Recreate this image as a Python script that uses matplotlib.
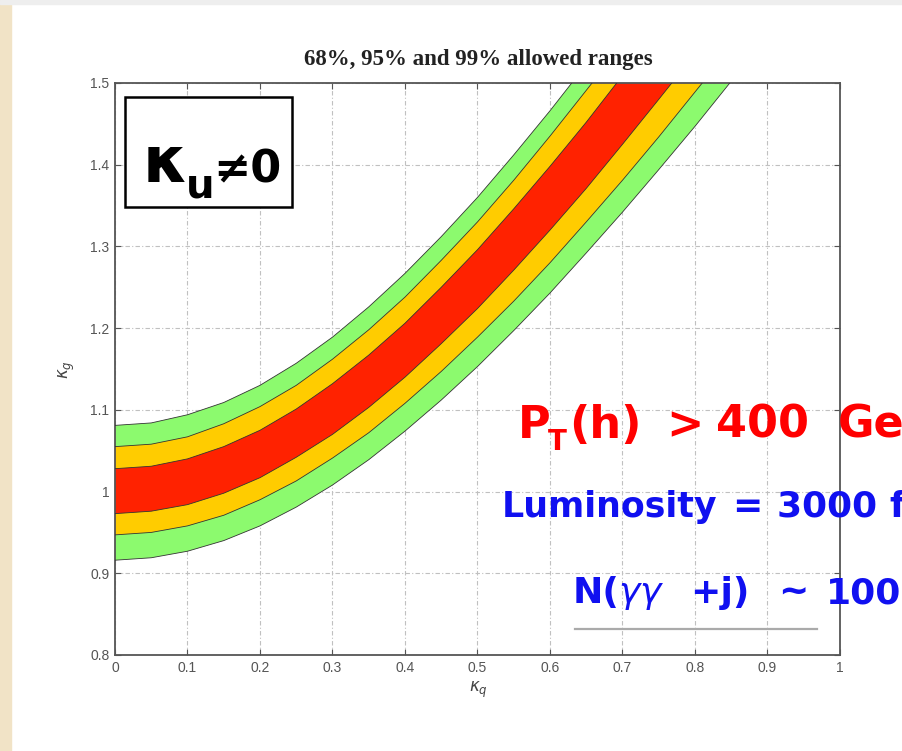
import matplotlib
matplotlib.use('Agg')
import matplotlib.pyplot as plt
from matplotlib.patches import Rectangle
import numpy as np

# allowed-range boundaries in the (kappa_q, kappa_g) plane, read along kappa_q
kq_green_hi = [0, 0.05, 0.1, 0.15, 0.2, 0.25, 0.3, 0.35, 0.4, 0.45, 0.5, 0.55, 0.6, 0.630]
kg_green_hi = [1.081, 1.084, 1.094, 1.109, 1.130, 1.157, 1.189, 1.226, 1.267, 1.312, 1.360, 1.412, 1.466, 1.5]
kq_yellow_hi = [0, 0.05, 0.1, 0.15, 0.2, 0.25, 0.3, 0.35, 0.4, 0.45, 0.5, 0.55, 0.6, 0.65, 0.658]
kg_yellow_hi = [1.055, 1.058, 1.067, 1.083, 1.104, 1.130, 1.162, 1.198, 1.238, 1.283, 1.330, 1.381, 1.435, 1.491, 1.5]
kq_red_hi = [0, 0.05, 0.1, 0.15, 0.2, 0.25, 0.3, 0.35, 0.4, 0.45, 0.5, 0.55, 0.6, 0.65, 0.692]
kg_red_hi = [1.028, 1.031, 1.040, 1.055, 1.075, 1.101, 1.132, 1.167, 1.206, 1.250, 1.296, 1.346, 1.398, 1.452, 1.5]
kq_red_lo = [0, 0.05, 0.1, 0.15, 0.2, 0.25, 0.3, 0.35, 0.4, 0.45, 0.5, 0.55, 0.6, 0.65, 0.7, 0.75, 0.768]
kg_red_lo = [0.973, 0.976, 0.984, 0.998, 1.017, 1.042, 1.070, 1.103, 1.140, 1.181, 1.224, 1.271, 1.320, 1.371, 1.425, 1.480, 1.5]
kq_yellow_lo = [0, 0.05, 0.1, 0.15, 0.2, 0.25, 0.3, 0.35, 0.4, 0.45, 0.5, 0.55, 0.6, 0.65, 0.7, 0.75, 0.8, 0.810]
kg_yellow_lo = [0.947, 0.950, 0.958, 0.971, 0.990, 1.013, 1.041, 1.072, 1.108, 1.147, 1.189, 1.233, 1.280, 1.330, 1.381, 1.434, 1.489, 1.5]
kq_green_lo = [0, 0.05, 0.1, 0.15, 0.2, 0.25, 0.3, 0.35, 0.4, 0.45, 0.5, 0.55, 0.6, 0.65, 0.7, 0.75, 0.8, 0.848]
kg_green_lo = [0.916, 0.919, 0.927, 0.940, 0.958, 0.981, 1.008, 1.039, 1.074, 1.112, 1.153, 1.197, 1.243, 1.292, 1.342, 1.394, 1.447, 1.5]

xticks = [0, 0.1, 0.2, 0.3, 0.4, 0.5, 0.6, 0.7, 0.8, 0.9, 1]
xticklabels = ['0', '0.1', '0.2', '0.3', '0.4', '0.5', '0.6', '0.7', '0.8', '0.9', '1']
yticks = [0.8, 0.9, 1.0, 1.1, 1.2, 1.3, 1.4, 1.5]
yticklabels = ['0.8', '0.9', '1', '1.1', '1.2', '1.3', '1.4', '1.5']

W, H = 903, 751
fig = plt.figure(figsize=(W / 100, H / 100), dpi=100)
fig.patch.set_facecolor('white')

def fx(px):
    return px / W

def fy(py):
    return 1 - py / H

# slide background strips
fig.patches.append(Rectangle((0, 0), fx(11), 1, transform=fig.transFigure, color='#f1e3c6', zorder=0))
fig.patches.append(Rectangle((0, fy(4)), 1, fy(0) - fy(4), transform=fig.transFigure, color='#eeeeee', zorder=0))

ax = fig.add_axes([fx(115), fy(655), fx(840) - fx(115), fy(83) - fy(655)])

bands = [
    (kq_green_hi, kg_green_hi, kq_green_lo, kg_green_lo, '#8cfa6e'),
    (kq_yellow_hi, kg_yellow_hi, kq_yellow_lo, kg_yellow_lo, '#ffcc00'),
    (kq_red_hi, kg_red_hi, kq_red_lo, kg_red_lo, '#ff2200'),
]
for xh, yh, xl, yl, col in bands:
    px = list(xh) + list(xl[::-1])
    py = list(yh) + list(yl[::-1])
    ax.fill(px, py, color=col, lw=0, zorder=2)
    ax.plot(xh, yh, color='#333333', lw=0.6, zorder=3)
    ax.plot(xl, yl, color='#333333', lw=0.6, zorder=3)

ax.set_xlim(0, 1)
ax.set_ylim(0.8, 1.5)
ax.set_xticks(xticks)
ax.set_xticklabels(xticklabels)
ax.set_yticks(yticks)
ax.set_yticklabels(yticklabels)
ax.grid(True, color='#c0c0c0', lw=0.8, linestyle=(0, (4, 2, 1, 2)), zorder=1)
ax.set_axisbelow(True)
ax.tick_params(direction='in', length=4, top=True, right=True, colors='#555555',
               labelsize=10, pad=4)
for lab in ax.get_xticklabels() + ax.get_yticklabels():
    lab.set_family('Liberation Sans')
    lab.set_color('#555555')
for s in ax.spines.values():
    s.set_color('#555555')
    s.set_linewidth(1.3)

fig.text(fx(478), fy(60), '68%, 95% and 99% allowed ranges', ha='center', va='center',
         family='Liberation Serif', weight='bold', fontsize=16.5, color='#222222')
fig.text(fx(478), fy(690), r'$\kappa_q$', ha='center', va='center', fontsize=12, color='#444444')
fig.text(fx(67), fy(370), r'$\kappa_g$', ha='center', va='center', rotation=90, fontsize=12, color='#444444')

# kappa_u label box
fig.patches.append(Rectangle((fx(125), fy(207)), fx(292) - fx(125), fy(97) - fy(207),
                             transform=fig.transFigure, facecolor='white', edgecolor='black', lw=1.8, zorder=5))
fig.text(fx(143), fy(182), 'κ', fontsize=46, weight='bold', va='baseline', ha='left', zorder=6)
fig.text(fx(186), fy(198), 'u', fontsize=29, weight='bold', va='baseline', ha='left', zorder=6)
fig.text(fx(213), fy(182), '≠0', fontsize=32, weight='bold', va='baseline', ha='left', zorder=6)

# selection text
red = '#ff0000'
blue = '#1010f0'
fig.text(fx(518), fy(438), 'P', fontsize=32, weight='bold', color=red, va='baseline')
fig.text(fx(548), fy(450), 'T', fontsize=20, weight='bold', color=red, va='baseline')
fig.text(fx(569), fy(438), '(h)', fontsize=32, weight='bold', color=red, va='baseline')
fig.text(fx(666), fy(438), '>', fontsize=32, weight='bold', color=red, va='baseline')
fig.text(fx(716), fy(438), '400', fontsize=32, weight='bold', color=red, va='baseline')
fig.text(fx(838), fy(438), 'GeV', fontsize=32, weight='bold', color=red, va='baseline')

fig.text(fx(502), fy(517), 'Luminosity', fontsize=25, weight='bold', color=blue, va='baseline')
fig.text(fx(732), fy(517), '=', fontsize=26, weight='bold', color=blue, va='baseline')
fig.text(fx(776), fy(517), '3000 fb$^{-1}$', fontsize=26, weight='bold', color=blue, va='baseline')

fig.text(fx(573), fy(603), 'N(', fontsize=26, weight='bold', color=blue, va='baseline')
fig.text(fx(618), fy(603), r'$\gamma\gamma$', fontsize=26, color=blue, va='baseline')
fig.text(fx(690), fy(603), '+j)', fontsize=26, weight='bold', color=blue, va='baseline')
fig.text(fx(778), fy(603), '~', fontsize=26, weight='bold', color=blue, va='baseline')
fig.text(fx(826), fy(603), '1000', fontsize=26, weight='bold', color=blue, va='baseline')
fig.add_artist(plt.Line2D([fx(575), fx(817)], [fy(629), fy(629)], transform=fig.transFigure,
                          color='#aaaaaa', lw=1.6))

fig.savefig('out.png', dpi=100)
